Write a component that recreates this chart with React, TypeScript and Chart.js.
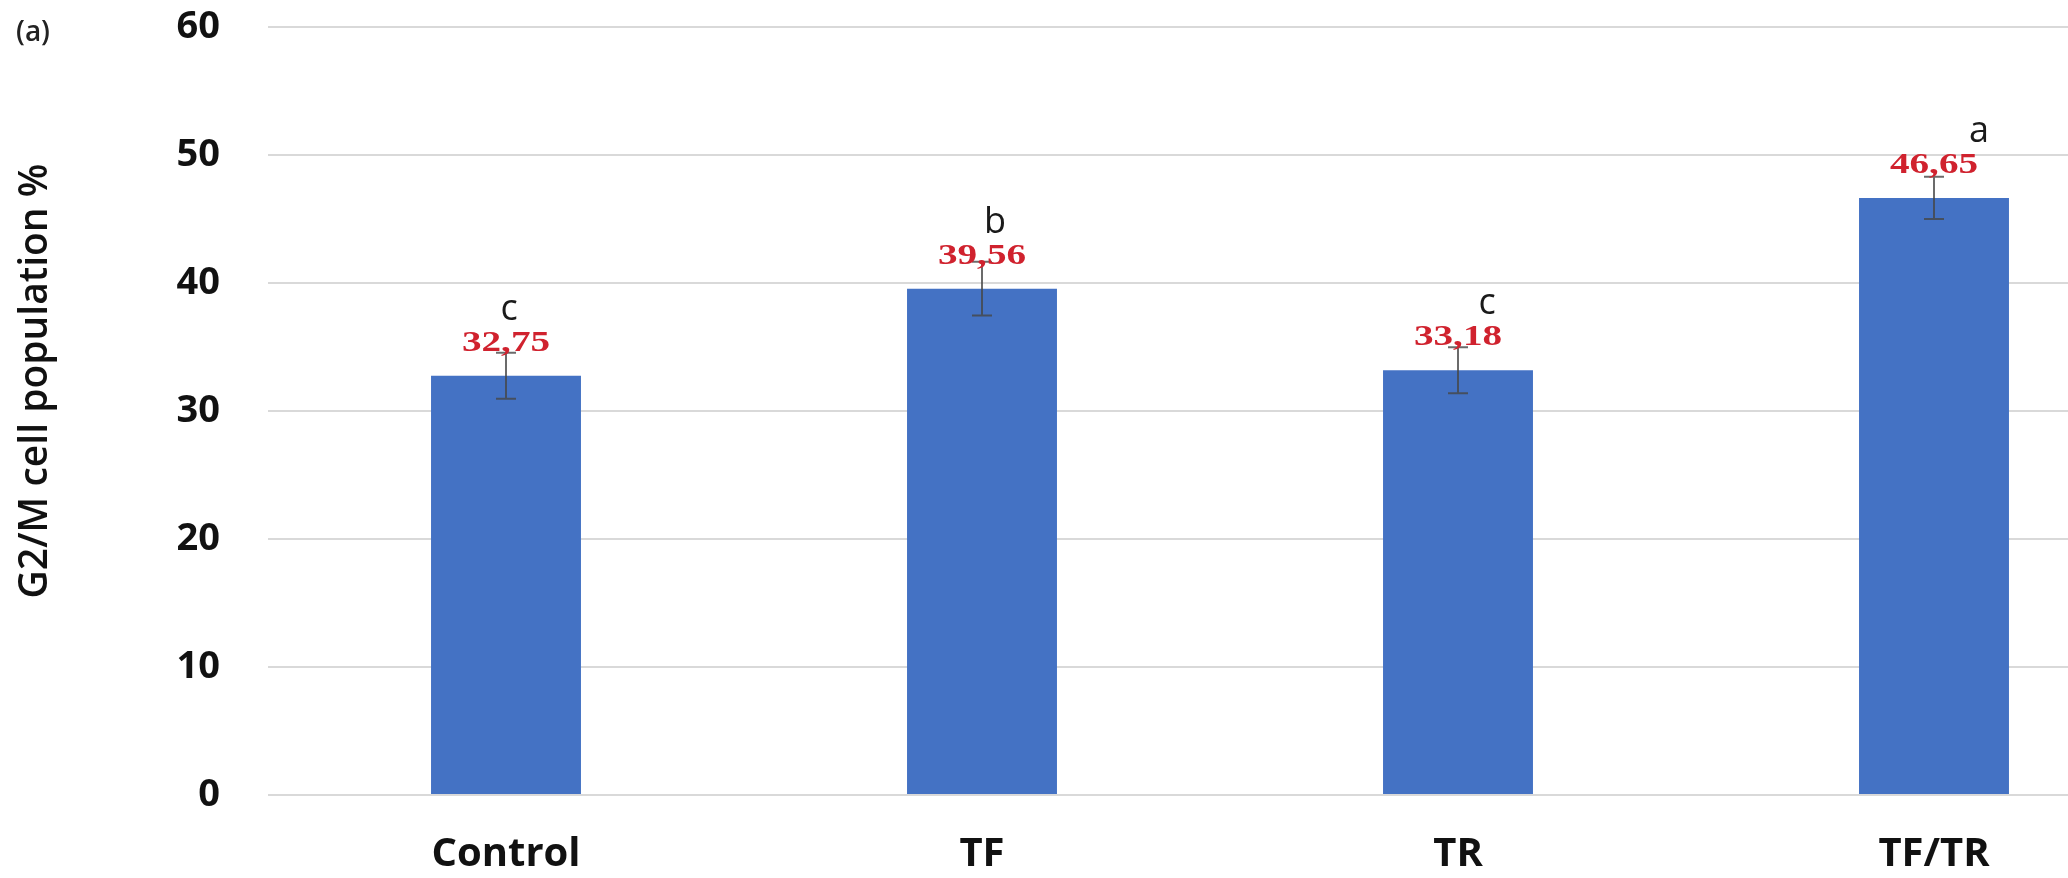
import { useEffect, useRef } from "react";
import { Chart, registerables } from "chart.js";

Chart.register(...registerables);

// Treatment groups and their G2/M phase cell population (%)
const groups = ["Control", "TF", "TR", "TF/TR"];
const g2mPercent = [32.75, 39.56, 33.18, 46.65];
// Half-length of each error bar (± SD)
const g2mError = [1.8, 2.1, 1.8, 1.65];
// Significance letters above each bar
const significance = ["c", "b", "c", "a"];
// Y axis tick values
const yTicks = [0, 10, 20, 30, 40, 50, 60];
const yAxisTitle = "G2/M cell population %";
const panelLabel = "(a)";

const CANVAS_W = 2180;
const CANVAS_H = 878;

const formatValue = (v: number) => v.toFixed(2).replace(".", ",");

const barAnnotations = {
  id: "barAnnotations",
  afterDatasetsDraw(chart: any) {
    const { ctx } = chart;
    const yScale = chart.scales.y;
    const meta = chart.getDatasetMeta(0);
    const letterNudge = [3, 13, 29, 45];

    ctx.save();
    // error bars
    ctx.strokeStyle = "rgba(70,70,70,0.8)";
    ctx.lineWidth = 2;
    meta.data.forEach((bar: any, i: number) => {
      const x = bar.x;
      const top = yScale.getPixelForValue(g2mPercent[i] + g2mError[i]);
      const bottom = yScale.getPixelForValue(g2mPercent[i] - g2mError[i]);
      ctx.beginPath();
      ctx.moveTo(x, top);
      ctx.lineTo(x, bottom);
      ctx.moveTo(x - 10, top);
      ctx.lineTo(x + 10, top);
      ctx.moveTo(x - 10, bottom);
      ctx.lineTo(x + 10, bottom);
      ctx.stroke();
    });

    // value labels and significance letters
    meta.data.forEach((bar: any, i: number) => {
      const barTop = yScale.getPixelForValue(g2mPercent[i]);
      ctx.save();
      ctx.translate(bar.x, barTop - 25);
      ctx.scale(1.35, 1);
      ctx.font = "bold 29px 'Liberation Serif', 'Times New Roman', serif";
      ctx.fillStyle = "#d0222e";
      ctx.textAlign = "center";
      ctx.textBaseline = "alphabetic";
      ctx.fillText(formatValue(g2mPercent[i]), 0, 0);
      ctx.restore();

      ctx.font = "36px 'Open Sans', sans-serif";
      ctx.fillStyle = "#1a1a1a";
      ctx.textAlign = "center";
      ctx.textBaseline = "alphabetic";
      ctx.fillText(significance[i], bar.x + letterNudge[i], barTop - 56);
    });

    // y axis title
    ctx.save();
    ctx.translate(36, 381);
    ctx.rotate(-Math.PI / 2);
    ctx.font = "600 39px 'Open Sans', sans-serif";
    ctx.fillStyle = "#111";
    ctx.textAlign = "center";
    ctx.textBaseline = "middle";
    ctx.fillText(yAxisTitle, 0, 0);
    ctx.restore();

    // panel label
    ctx.font = "600 28px 'Open Sans', sans-serif";
    ctx.fillStyle = "#222";
    ctx.textAlign = "center";
    ctx.textBaseline = "middle";
    ctx.fillText(panelLabel, 33, 33);
    ctx.restore();
  },
};

export default function App() {
  const canvasRef = useRef<HTMLCanvasElement | null>(null);

  useEffect(() => {
    if (!canvasRef.current) return;
    const chart = new Chart(canvasRef.current, {
      type: "bar",
      data: {
        labels: groups,
        datasets: [
          {
            data: g2mPercent,
            backgroundColor: "#4472C4",
            borderWidth: 0,
            barPercentage: 0.315,
            categoryPercentage: 1,
          },
        ],
      },
      options: {
        responsive: false,
        animation: false,
        layout: { padding: { top: 27, right: 8, left: 0, bottom: 0 } },
        plugins: {
          legend: { display: false },
          tooltip: { enabled: false },
        },
        scales: {
          x: {
            grid: { display: false, drawTicks: false },
            border: { display: false },
            ticks: {
              color: "#111",
              padding: 36,
              font: { family: "'Open Sans', sans-serif", weight: "bold", size: 40 },
            },
            afterFit: (s: any) => {
              s.height = 83;
            },
          },
          y: {
            min: 0,
            max: 60,
            afterBuildTicks: (s: any) => {
              s.ticks = yTicks.map((v) => ({ value: v }));
            },
            grid: { color: "#d9d9d9", lineWidth: 2, drawTicks: false },
            border: { display: false },
            ticks: {
              color: "#111",
              padding: 48,
              font: { family: "'Open Sans', sans-serif", weight: "bold", size: 38 },
            },
            afterFit: (s: any) => {
              s.width = 268;
              s.paddingTop = 0;
              s.paddingBottom = 0;
            },
          },
        },
      } as any,
      plugins: [barAnnotations],
    });
    return () => chart.destroy();
  }, []);

  return (
    <div
      style={{
        position: "fixed",
        left: 0,
        top: 0,
        width: 2068,
        height: 878,
        overflow: "hidden",
        background: "#fff",
      }}
    >
      <canvas
        ref={canvasRef}
        width={CANVAS_W}
        height={CANVAS_H}
        style={{ width: CANVAS_W, height: CANVAS_H, display: "block" }}
      />
    </div>
  );
}
